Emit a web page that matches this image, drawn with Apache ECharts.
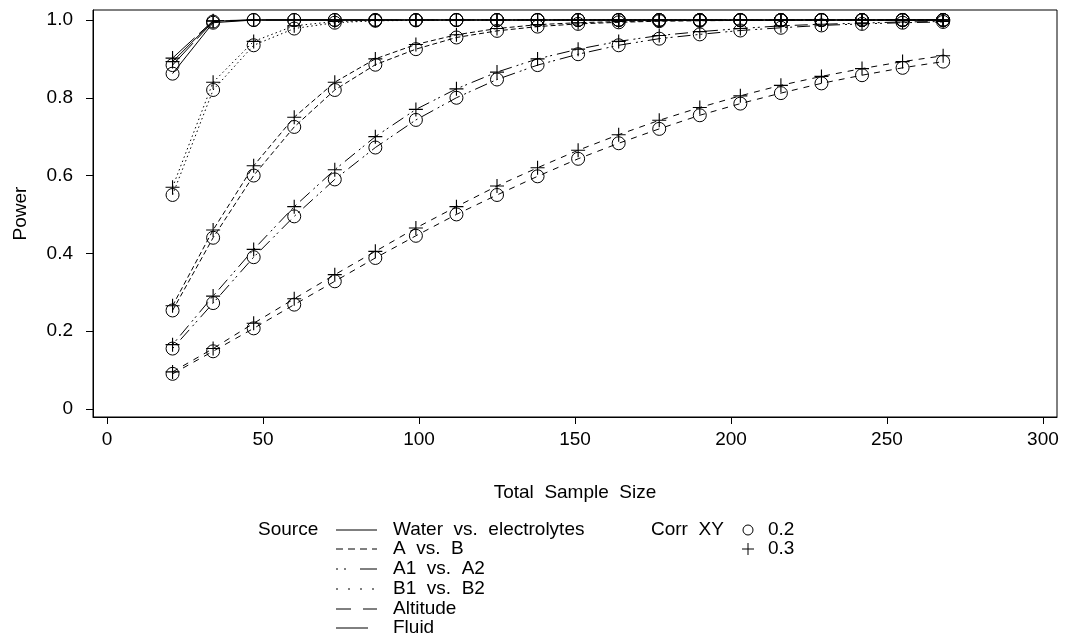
<!DOCTYPE html>
<html>
<head>
<meta charset="utf-8">
<script src="https://cdn.jsdelivr.net/npm/echarts@6/dist/echarts.min.js"></script>
<style>
  html, body { margin: 0; padding: 0; background: #fff; }
  #main { width: 1067px; height: 637px; }
</style>
</head>
<body>
<div id="main"></div>
<script>
  // total sample sizes
  var sampleSizes = [21, 34, 47, 60, 73, 86, 99, 112, 125, 138, 151, 164, 177, 190, 203, 216, 229, 242, 255, 268];

  // power per source, corr XY = 0.2 / 0.3
  var waterP02 = [0.862, 0.993, 0.9999, 1, 1, 1, 1, 1, 1, 1, 1, 1, 1, 1, 1, 1, 1, 1, 1, 1];
  var waterP03 = [0.893, 0.997, 1, 1, 1, 1, 1, 1, 1, 1, 1, 1, 1, 1, 1, 1, 1, 1, 1, 1];
  var abP02 = [0.253, 0.44, 0.60, 0.725, 0.82, 0.885, 0.925, 0.955, 0.972, 0.983, 0.99, 0.994, 0.997, 0.998, 0.999, 0.999, 1, 1, 1, 1];
  var abP03 = [0.265, 0.46, 0.625, 0.75, 0.84, 0.90, 0.937, 0.962, 0.978, 0.988, 0.993, 0.996, 0.998, 0.999, 0.999, 1, 1, 1, 1, 1];
  var a1a2P02 = [0.155, 0.272, 0.39, 0.495, 0.59, 0.672, 0.743, 0.80, 0.847, 0.884, 0.912, 0.935, 0.952, 0.963, 0.973, 0.98, 0.986, 0.99, 0.993, 0.995];
  var a1a2P03 = [0.165, 0.29, 0.41, 0.52, 0.615, 0.70, 0.77, 0.823, 0.866, 0.90, 0.925, 0.945, 0.96, 0.97, 0.978, 0.985, 0.989, 0.992, 0.995, 0.996];
  var b1b2P02 = [0.55, 0.82, 0.935, 0.978, 0.993, 0.998, 0.999, 1, 1, 1, 1, 1, 1, 1, 1, 1, 1, 1, 1, 1];
  var b1b2P03 = [0.57, 0.84, 0.945, 0.985, 0.996, 0.999, 1, 1, 1, 1, 1, 1, 1, 1, 1, 1, 1, 1, 1, 1];
  var altitudeP02 = [0.09, 0.148, 0.207, 0.268, 0.328, 0.388, 0.445, 0.50, 0.55, 0.598, 0.643, 0.683, 0.72, 0.755, 0.785, 0.812, 0.837, 0.858, 0.877, 0.893];
  var altitudeP03 = [0.095, 0.155, 0.22, 0.283, 0.345, 0.405, 0.465, 0.52, 0.573, 0.62, 0.665, 0.705, 0.742, 0.775, 0.805, 0.832, 0.855, 0.875, 0.893, 0.908];
  var fluidP02 = [0.884, 0.996, 1, 1, 1, 1, 1, 1, 1, 1, 1, 1, 1, 1, 1, 1, 1, 1, 1, 1];
  var fluidP03 = [0.902, 0.998, 1, 1, 1, 1, 1, 1, 1, 1, 1, 1, 1, 1, 1, 1, 1, 1, 1, 1];

  var sourceNames = ['Water vs. electrolytes', 'A vs. B', 'A1 vs. A2', 'B1 vs. B2', 'Altitude', 'Fluid'];
  var corrNames = ['0.2', '0.3'];
  var xTicks = [0, 50, 100, 150, 200, 250, 300];
  var yTicks = [0, 0.2, 0.4, 0.6, 0.8, 1.0];

  var FONT = 'Liberation Sans';
  var FS = 19;
  var PLUS = 'path://M-0.8,-10H0.8V10H-0.8Z M-10,-0.8H10V0.8H-10Z';
  // SAS puts wide gaps between words
  function wide(s) { return s.split(' ').join('  '); }

  // line patterns in the plot and in the legend sample
  var dashes = ['solid', [5, 3], [2, 3, 2, 5, 13, 5], [1.5, 3], [6, 6], [30, 6]];
  var legendDashes = [null, [7, 5], [2, 6, 2, 14, 17, 2], [2, 10], [15, 12], null];
  var powers = [
    [waterP02, waterP03],
    [abP02, abP03],
    [a1a2P02, a1a2P03],
    [b1b2P02, b1b2P03],
    [altitudeP02, altitudeP03],
    [fluidP02, fluidP03]
  ];

  var series = [];
  powers.forEach(function (pair, s) {
    pair.forEach(function (vals, c) {
      series.push({
        type: 'line',
        name: sourceNames[s] + ' / ' + corrNames[c],
        data: sampleSizes.map(function (n, i) { return [n, vals[i]]; }),
        symbol: c === 0 ? 'circle' : PLUS,
        symbolSize: c === 0 ? 13 : 14,
        showAllSymbol: true,
        lineStyle: { color: '#000', width: 1, type: dashes[s] },
        itemStyle: c === 0
          ? { color: 'rgba(0,0,0,0)', borderColor: '#000', borderWidth: 1 }
          : { color: '#000', borderWidth: 0 },
        emphasis: { disabled: true },
        silent: true
      });
    });
  });

  // legend drawn by hand, SAS style
  var graphic = [];
  var rowY = [530, 549, 569, 589, 609, 628];
  var font = FS + 'px ' + FONT;
  graphic.push({ type: 'text', left: 258, top: rowY[0] - 10,
    style: { text: 'Source', font: font, fill: '#000' } });
  sourceNames.forEach(function (nm, i) {
    graphic.push({ type: 'line', shape: { x1: 336, y1: rowY[i], x2: i === 5 ? 368 : 377, y2: rowY[i] },
      style: { stroke: '#000', lineWidth: 1, lineDash: legendDashes[i] } });
    graphic.push({ type: 'text', left: 393, top: rowY[i] - 10,
      style: { text: wide(nm), font: font, fill: '#000' } });
  });
  graphic.push({ type: 'text', left: 651, top: rowY[0] - 10,
    style: { text: wide('Corr XY'), font: font, fill: '#000' } });
  graphic.push({ type: 'circle', shape: { cx: 748, cy: rowY[0], r: 5 },
    style: { fill: 'none', stroke: '#000', lineWidth: 1 } });
  graphic.push({ type: 'line', shape: { x1: 748, y1: rowY[1] - 6, x2: 748, y2: rowY[1] + 6 },
    style: { stroke: '#000', lineWidth: 1 } });
  graphic.push({ type: 'line', shape: { x1: 742, y1: rowY[1], x2: 754, y2: rowY[1] },
    style: { stroke: '#000', lineWidth: 1 } });
  corrNames.forEach(function (c, i) {
    graphic.push({ type: 'text', left: 768, top: rowY[i] - 10,
      style: { text: c, font: font, fill: '#000' } });
  });

  var myChart = echarts.init(document.getElementById('main'), null, { renderer: 'canvas' });
  myChart.setOption({
    animation: false,
    backgroundColor: '#fff',
    textStyle: { fontFamily: FONT },
    grid: { left: 93, right: 10, top: 10, bottom: 220, show: true, borderColor: '#000', borderWidth: 1, containLabel: false },
    xAxis: {
      type: 'value',
      min: -4.5,
      max: 304.5,
      name: wide('Total Sample Size'),
      nameLocation: 'middle',
      nameGap: 66,
      nameTextStyle: { fontSize: FS, color: '#000', fontFamily: FONT },
      axisLine: { show: true, onZero: false, lineStyle: { color: '#000', width: 1 } },
      axisTick: { show: true, inside: false, length: 7, customValues: xTicks, lineStyle: { color: '#000' } },
      axisLabel: { customValues: xTicks, fontSize: FS, color: '#000', margin: 13, fontFamily: FONT },
      splitLine: { show: false }
    },
    yAxis: {
      type: 'value',
      min: -0.021,
      max: 1.0257,
      name: 'Power',
      nameLocation: 'middle',
      nameGap: 63,
      nameTextStyle: { fontSize: FS, color: '#000', fontFamily: FONT },
      axisLine: { show: true, onZero: false, lineStyle: { color: '#000', width: 1 } },
      axisTick: { show: true, inside: false, length: 7, customValues: yTicks, lineStyle: { color: '#000' } },
      axisLabel: {
        customValues: yTicks,
        fontSize: FS,
        color: '#000',
        margin: 20,
        fontFamily: FONT,
        formatter: function (v) { return v === 0 ? '0' : v.toFixed(1); }
      },
      splitLine: { show: false }
    },
    series: series,
    graphic: graphic
  });
  window.addEventListener('resize', function () { myChart.resize(); });
</script>
</body>
</html>
